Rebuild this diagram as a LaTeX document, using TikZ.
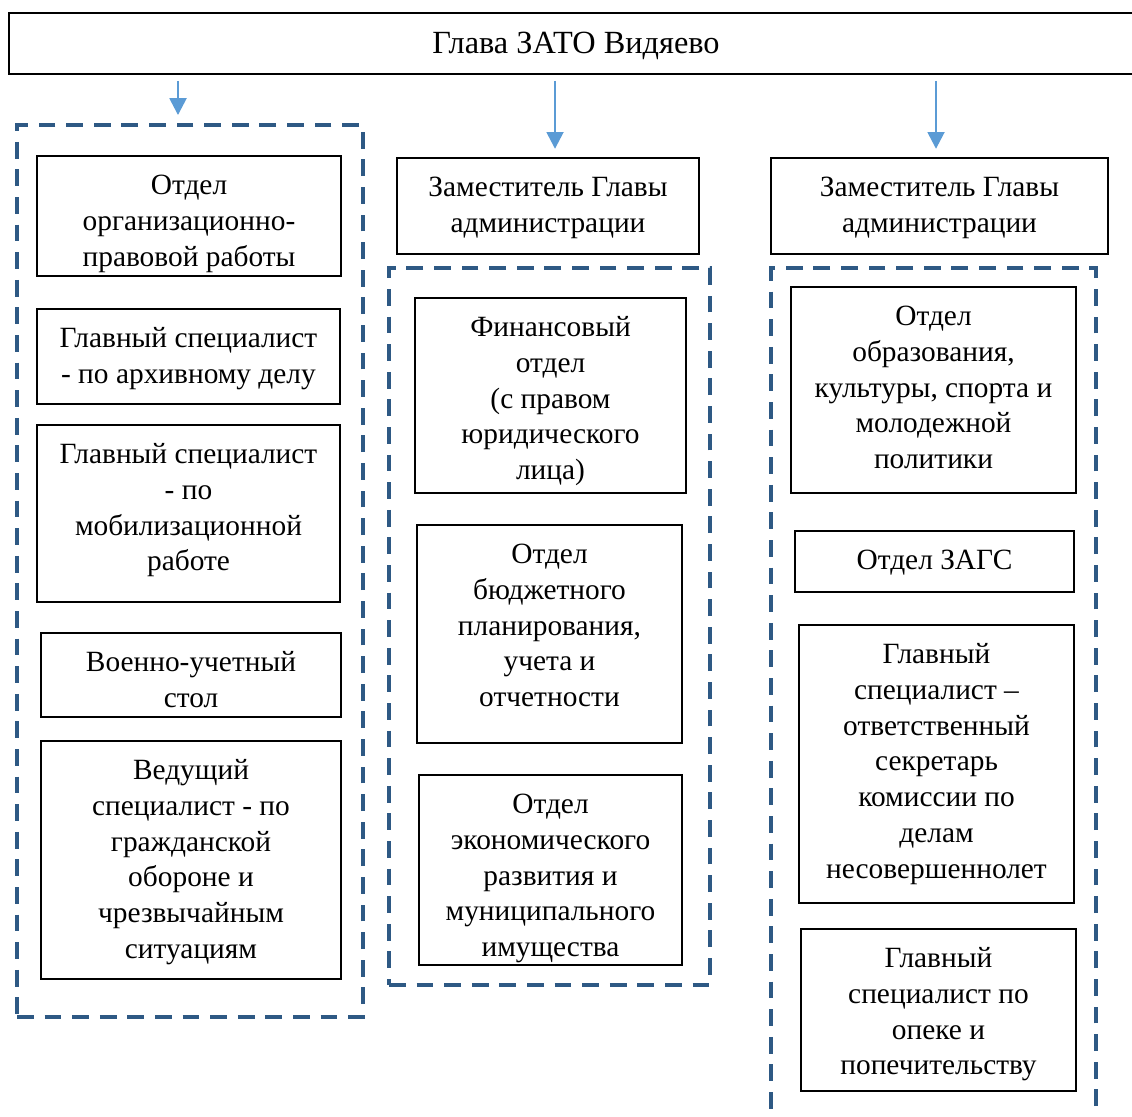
\documentclass[tikz,border=0pt]{standalone}
\usepackage{fontspec}
\setmainfont{Liberation Serif}
\usetikzlibrary{arrows.meta}

\definecolor{linkblue}{RGB}{91,155,213}
\definecolor{groupblue}{RGB}{46,89,132}

\begin{document}
\begin{tikzpicture}

\useasboundingbox (0,0) rectangle (28.3,-27.925);
\clip (0,0) rectangle (28.3,-27.925);

\tikzstyle{every node}=[draw,shape=rectangle,align=flush center,inner sep=0pt,line width=1.1pt,text height=0.96cm,font=\fontsize{20.9}{25.5}\selectfont];
\tikzstyle{group}=[draw=groupblue,line width=2.2pt,dash pattern=on 0.42cm off 0.27cm];
\tikzstyle{link}=[draw=linkblue,line width=1.8pt,-{Triangle[length=0.42cm,width=0.42cm]}];

% Draw the head of the administration
\node[text width=28.35cm,text height=1.025cm,text depth=0.5cm,font=\fontsize{23}{27}\selectfont] (head) at (14.4,-1.0875) {Глава ЗАТО Видяево};

% Draw the dashed groups
\node[group,minimum width=8.65cm,minimum height=22.3cm] (lgroup) at (4.75,-14.275) {};
\node[group,minimum width=8.025cm,minimum height=17.925cm] (mgroup) at (13.7375,-15.6625) {};
\node[group,minimum width=8.125cm,minimum height=21.8cm] (rgroup) at (23.3375,-17.6) {};

% Draw the two deputies
\node[text width=7.55cm,text depth=1.44cm] (mdep) at (13.7,-5.15) {Заместитель Главы\\администрации};
\node[text width=8.425cm,text depth=1.44cm] (rdep) at (23.4875,-5.15) {Заместитель Главы\\администрации};

% Left column
\node[text width=7.6cm,text depth=2.04cm] (l1) at (4.725,-5.4) {Отдел\\организационно-\\правовой работы};
\node[text width=7.575cm,text depth=1.415cm] (l2) at (4.7125,-8.9125) {Главный специалист\\- по архивному делу};
\node[text width=7.575cm,text depth=3.465cm] (l3) at (4.7125,-12.8375) {Главный специалист\\- по\\мобилизационной\\работе};
\node[text width=7.5cm,text depth=1.14cm] (l4) at (4.775,-16.875) {Военно-учетный\\стол};
\node[text width=7.5cm,text depth=4.99cm] (l5) at (4.775,-21.5) {Ведущий\\специалист - по\\гражданской\\обороне и\\чрезвычайным\\ситуациям};

% Middle column
\node[text width=6.775cm,text depth=3.915cm] (m1) at (13.7625,-9.8875) {Финансовый\\отдел\\(с правом\\юридического\\лица)};
\node[text width=6.625cm,text depth=4.49cm] (m2) at (13.7375,-15.85) {Отдел\\бюджетного\\планирования,\\учета и\\отчетности};
\node[text width=6.575cm,text depth=3.79cm] (m3) at (13.7625,-21.75) {Отдел\\экономического\\развития и\\муниципального\\имущества};

% Right column
\node[text width=7.125cm,text depth=4.19cm] (r1) at (23.3375,-9.75) {Отдел\\образования,\\культуры, спорта и\\молодежной\\политики};
\node[text width=6.975cm,text depth=0.565cm] (r2) at (23.3625,-14.0375) {Отдел ЗАГС};
\node[text width=6.875cm,text depth=5.99cm] (r3) at (23.4125,-19.1) {Главный\\специалист –\\ответственный\\секретарь\\комиссии по\\делам\\несовершеннолет};
\node[text width=6.875cm,text depth=3.09cm] (r4) at (23.4625,-25.25) {Главный\\специалист по\\опеке и\\попечительству};

% Arrows from the head
\foreach \x/\t in {4.45/lgroup,13.875/mdep,23.4/rdep}
  \draw[link,shorten <=0.15cm,shorten >=0.21cm] (head.south -| \x,0) -- (\t.north -| \x,0);

\end{tikzpicture}
\end{document}
